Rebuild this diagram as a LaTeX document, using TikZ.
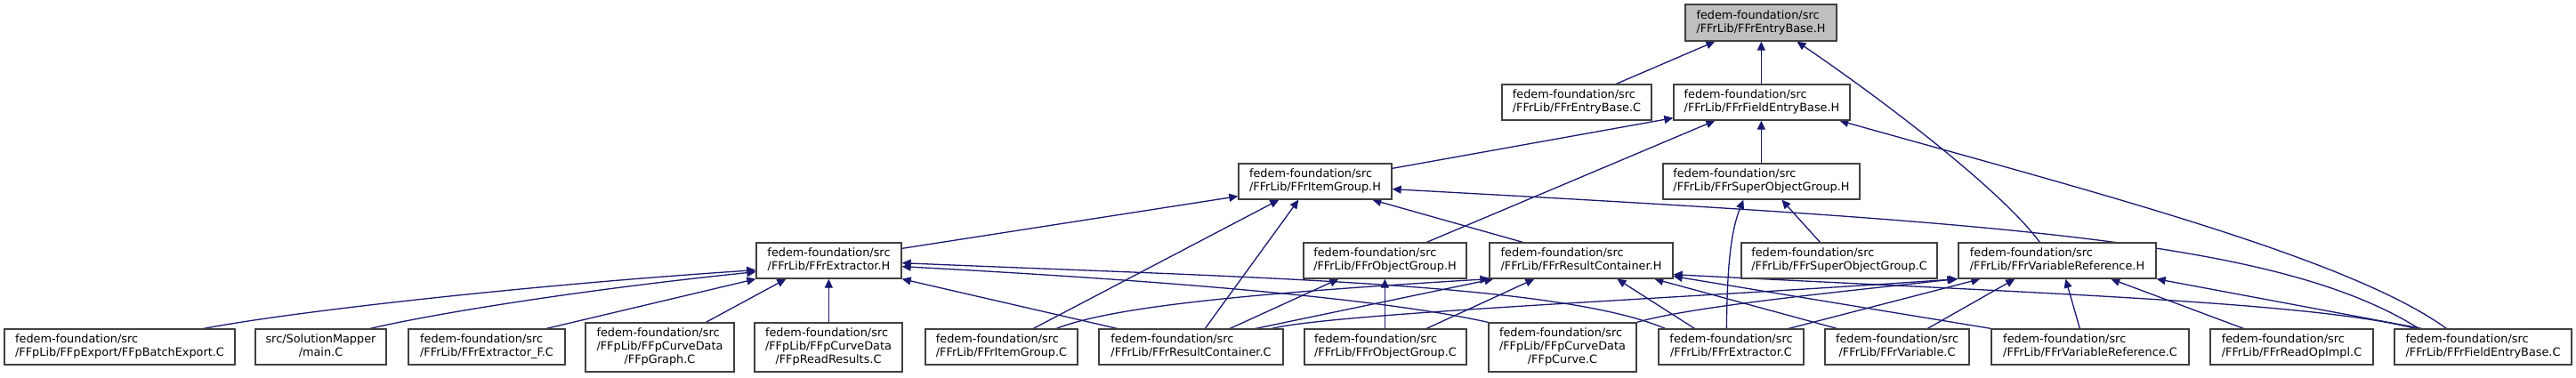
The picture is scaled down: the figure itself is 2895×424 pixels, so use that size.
\documentclass[tikz,border=0pt]{standalone}
\usepackage{fontspec}
\setmainfont{DejaVu Sans}
\usetikzlibrary{arrows.meta,backgrounds}
\definecolor{edgeblue}{HTML}{191970}
\definecolor{boxline}{HTML}{404040}
\definecolor{rootfill}{HTML}{BFBFBF}
\newcommand{\lnA}[2]{\begin{tabular}{@{}l@{}}#1\\\multicolumn{1}{@{}c@{}}{#2}\end{tabular}}
\newcommand{\lnB}[3]{\begin{tabular}{@{}l@{}}#1\\#2\\\multicolumn{1}{@{}c@{}}{#3}\end{tabular}}
\newcommand{\mkbox}[7][]{\node[box,#1,minimum width={#5-#3},minimum height={#6-#4}] (#2) at ({(#3+#5)/2},{(#4+#6)/2}) {#7};}
\tikzset{
  box/.style={draw=boxline, line width=1.3pt, fill=white, inner sep=0pt, font=\fontsize{12.85}{15}\selectfont},
  dep/.style={draw=edgeblue, line width=1.3pt, -{Triangle[length=10pt,width=9pt]}}
}
\def\fs{fedem-foundation/src}
\begin{document}
\begin{tikzpicture}[x=1pt,y=-1pt]
\useasboundingbox (0,0) rectangle (2895,424);
% row 0
\mkbox[fill=rootfill]{EntryBaseH}{1894}{5}{2064}{46}{\lnA{\fs}{/FFrLib/FFrEntryBase.H}}
% row 1
\mkbox{EntryBaseC}{1688}{95}{1856}{135}{\lnA{\fs}{/FFrLib/FFrEntryBase.C}}
\mkbox{FieldEntryBaseH}{1881}{95}{2079}{135}{\lnA{\fs}{/FFrLib/FFrFieldEntryBase.H}}
% row 2
\mkbox{ItemGroupH}{1392}{184}{1564}{224}{\lnA{\fs}{/FFrLib/FFrItemGroup.H}}
\mkbox{SuperObjGroupH}{1869}{184}{2090}{224}{\lnA{\fs}{/FFrLib/FFrSuperObjectGroup.H}}
% row 3
\mkbox{ExtractorH}{850}{273}{1013}{313}{\lnA{\fs}{/FFrLib/FFrExtractor.H}}
\mkbox{ObjectGroupH}{1465}{273}{1648}{313}{\lnA{\fs}{/FFrLib/FFrObjectGroup.H}}
\mkbox{ResultContainerH}{1674}{273}{1880}{313}{\lnA{\fs}{/FFrLib/FFrResultContainer.H}}
\mkbox{SuperObjGroupC}{1957}{273}{2177}{313}{\lnA{\fs}{/FFrLib/FFrSuperObjectGroup.C}}
\mkbox{VarRefH}{2201}{273}{2423}{313}{\lnA{\fs}{/FFrLib/FFrVariableReference.H}}
% row 4
\mkbox{BatchExportC}{5}{370}{264}{410}{\lnA{\fs}{/FFpLib/FFpExport/FFpBatchExport.C}}
\mkbox{mainC}{287}{370}{434}{410}{\lnA{src/SolutionMapper}{/main.C}}
\mkbox{ExtractorFC}{459}{370}{635}{410}{\lnA{\fs}{/FFrLib/FFrExtractor\_F.C}}
\mkbox{FFpGraphC}{658}{363}{825}{418}{\lnB{\fs}{/FFpLib/FFpCurveData}{/FFpGraph.C}}
\mkbox{FFpReadResultsC}{848}{363}{1014}{418}{\lnB{\fs}{/FFpLib/FFpCurveData}{/FFpReadResults.C}}
\mkbox{ItemGroupC}{1040}{370}{1211}{410}{\lnA{\fs}{/FFrLib/FFrItemGroup.C}}
\mkbox{ResultContainerC}{1235}{370}{1442}{410}{\lnA{\fs}{/FFrLib/FFrResultContainer.C}}
\mkbox{ObjectGroupC}{1466}{370}{1648}{410}{\lnA{\fs}{/FFrLib/FFrObjectGroup.C}}
\mkbox{FFpCurveC}{1673}{363}{1839}{418}{\lnB{\fs}{/FFpLib/FFpCurveData}{/FFpCurve.C}}
\mkbox{ExtractorC}{1864}{370}{2027}{410}{\lnA{\fs}{/FFrLib/FFrExtractor.C}}
\mkbox{VariableC}{2051}{370}{2213}{410}{\lnA{\fs}{/FFrLib/FFrVariable.C}}
\mkbox{VarRefC}{2238}{370}{2460}{410}{\lnA{\fs}{/FFrLib/FFrVariableReference.C}}
\mkbox{ReadOpImplC}{2484}{370}{2667}{410}{\lnA{\fs}{/FFrLib/FFrReadOpImpl.C}}
\mkbox{FieldEntryBaseC}{2691}{370}{2890}{410}{\lnA{\fs}{/FFrLib/FFrFieldEntryBase.C}}
\begin{scope}[on background layer]
\fill[white] (0,0) rectangle (2895,424);
% to EntryBase.H
\draw[dep] ([xshift=129]EntryBaseC.north west) -- ([xshift=34]EntryBaseH.south west);
\draw[dep] ([xshift=99]FieldEntryBaseH.north west) -- ([xshift=86]EntryBaseH.south west);
\draw[dep] ([xshift=92]VarRefH.north west) .. controls (2250,215) and (2120,115) .. ([xshift=126]EntryBaseH.south west);
% to FieldEntryBase.H
\draw[dep] ([yshift=-6]ItemGroupH.north east) -- ([yshift=3]FieldEntryBaseH.south west);
\draw[dep] ([xshift=139]ObjectGroupH.north west) -- ([xshift=47]FieldEntryBaseH.south west);
\draw[dep] ([xshift=111]SuperObjGroupH.north west) -- ([xshift=99]FieldEntryBaseH.south west);
\draw[dep] ([xshift=59]FieldEntryBaseC.north west) .. controls (2640,290) and (2350,215) .. ([xshift=187]FieldEntryBaseH.south west);
% to ItemGroup.H
\draw[dep] ([yshift=-7]ExtractorH.north east) -- ([yshift=4]ItemGroupH.south west);
\draw[dep] ([xshift=122]ItemGroupC.north west) -- ([xshift=46]ItemGroupH.south west);
\draw[dep] ([xshift=120]ResultContainerC.north west) -- ([xshift=68]ItemGroupH.south west);
\draw[dep] ([xshift=38]ResultContainerH.north west) -- ([xshift=151]ItemGroupH.south west);
\draw[dep] ([xshift=28]FieldEntryBaseC.north west) .. controls (2560,270) and (2250,250) .. ([yshift=12]ItemGroupH.south east);
% to SuperObjectGroup.H
\draw[dep] ([xshift=77]ExtractorC.north west) .. controls (1941,300) and (1945,260) .. ([xshift=91]SuperObjGroupH.south west);
\draw[dep] ([xshift=89]SuperObjGroupC.north west) -- ([xshift=134]SuperObjGroupH.south west);
% to Extractor.H
\draw[dep] ([xshift=225]BatchExportC.north west) .. controls (330,350) and (600,320) .. ([yshift=10]ExtractorH.south west);
\draw[dep] ([xshift=130]mainC.north west) .. controls (490,352) and (660,325) .. ([yshift=8]ExtractorH.south west);
\draw[dep] ([xshift=156]ExtractorFC.north west) -- (ExtractorH.south west);
\draw[dep] ([xshift=136]FFpGraphC.north west) -- ([xshift=34]ExtractorH.south west);
\draw[dep] ([xshift=84]FFpReadResultsC.north west) -- ([xshift=82]ExtractorH.south west);
\draw[dep] ([xshift=21]ResultContainerC.north west) -- (ExtractorH.south east);
\draw[dep] ([xshift=8]ExtractorC.north west) .. controls (1750,318) and (1400,312) .. ([yshift=18]ExtractorH.south east);
\draw[dep] (FFpCurveC.north west) .. controls (1550,335) and (1300,315) .. ([yshift=14]ExtractorH.south east);
% to ObjectGroup.H
\draw[dep] ([xshift=148]ResultContainerC.north west) -- ([xshift=40]ObjectGroupH.south west);
\draw[dep] ([xshift=91]ObjectGroupC.north west) -- ([xshift=92]ObjectGroupH.south west);
% to ResultContainer.H
\draw[dep] ([xshift=148]ItemGroupC.north west) .. controls (1250,345) and (1400,330) .. (ResultContainerH.south west);
\draw[dep] ([xshift=177]ResultContainerC.north west) -- ([xshift=5]ResultContainerH.south west);
\draw[dep] ([xshift=138]ObjectGroupC.north west) -- ([xshift=51]ResultContainerH.south west);
\draw[dep] ([xshift=41]ExtractorC.north west) -- ([xshift=144]ResultContainerH.south west);
\draw[dep] ([xshift=14]VariableC.north west) -- ([xshift=186]ResultContainerH.south west);
\draw[dep] (VarRefC.north west) -- ([yshift=3]ResultContainerH.south east);
\draw[dep] ([xshift=24]FieldEntryBaseC.north west) .. controls (2600,340) and (2300,330) .. ([yshift=5]ResultContainerH.south east);
% to VariableReference.H
\draw[dep] ([xshift=195]ResultContainerC.north west) .. controls (1500,352) and (1900,335) .. (VarRefH.south west);
\draw[dep] (FFpCurveC.north east) .. controls (1900,345) and (2050,330) .. ([xshift=-2]VarRefH.south west);
\draw[dep] ([xshift=147]ExtractorC.north west) -- ([xshift=25]VarRefH.south west);
\draw[dep] ([xshift=116]VariableC.north west) -- ([xshift=64]VarRefH.south west);
\draw[dep] ([xshift=100]VarRefC.north west) -- ([xshift=121]VarRefH.south west);
\draw[dep] ([xshift=38]ReadOpImplC.north west) -- ([xshift=172]VarRefH.south west);
\draw[dep] ([xshift=31]FieldEntryBaseC.north west) -- (VarRefH.south east);
\end{scope}
\end{tikzpicture}
\end{document}
